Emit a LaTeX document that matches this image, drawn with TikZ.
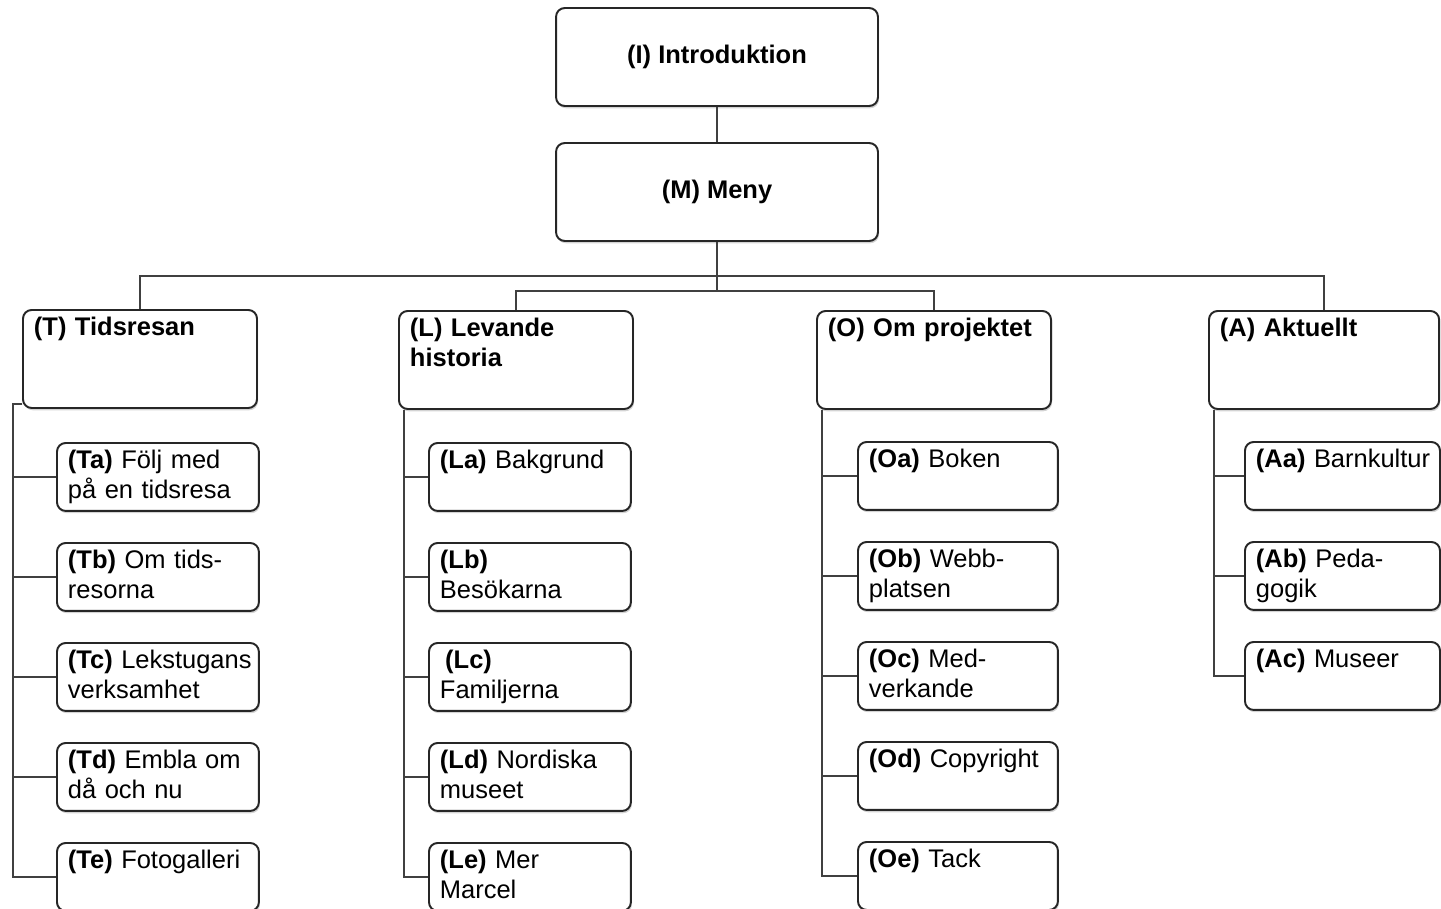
\documentclass[tikz,border=0pt]{standalone}
\usepackage{fontspec}
\setmainfont{Liberation Sans}
\usetikzlibrary{shadows}
\newcommand{\kod}[1]{\textbf{#1}}
\tikzset{
  ruta/.style={draw=black!85, line width=1.1pt, fill=white, rounded corners=5pt,
    drop shadow={shadow xshift=0.6pt, shadow yshift=-1.3pt, opacity=0.35},
    font=\fontsize{14.5}{17.2}\selectfont},
  topp/.style={ruta, minimum width=6.44cm, minimum height=1.96cm,
    font=\fontsize{14.5}{17.2}\selectfont\bfseries},
  avd/.style={ruta, anchor=north west, align=left, inner xsep=6.26pt, inner ysep=4pt,
    text width=120.7pt, text height=10.5pt, text depth=37.3pt,
    font=\fontsize{14.5}{17.2}\selectfont\bfseries},
  sida/.style={ruta, anchor=north west, align=left, inner xsep=6.26pt, inner ysep=4pt,
    text width=102.4pt, text height=10.5pt, text depth=20.2pt},
  lank/.style={draw=black!75, line width=0.8pt}
}
\begin{document}
\begin{tikzpicture}[x=0.02cm, y=-0.02cm]
    \useasboundingbox (0,0) rectangle (1441,909);
    \node[topp] (I) at (717,57) {(I) Introduktion};
    \node[topp] (M) at (717,192) {(M) Meny};
    % avdelningar
    \node[avd] (T) at (22,309) {(T) Tidsresan};
    \node[avd] (L) at (398,310) {(L) Levande\\historia};
    \node[avd] (O) at (816,310) {(O) Om projektet};
    \node[avd, text width=118.5pt] (A) at (1208,310) {(A) Aktuellt};
    % sidor
    \foreach \n/\y/\txt in {Ta/442/{\kod{(Ta)} Följ med\\på en tidsresa}, Tb/542/{\kod{(Tb)} Om tids-\\resorna},
        Tc/642/{\mbox{\kod{(Tc)} Lekstugans}\\verksamhet}, Td/742/{\kod{(Td)} Embla om\\då och nu}, Te/842/{\kod{(Te)} Fotogalleri}}
        \node[sida] (\n) at (56,\y) {\txt};
    \foreach \n/\y/\txt in {La/442/{\kod{(La)} Bakgrund}, Lb/542/{\kod{(Lb)}\\Besökarna},
        Lc/642/{\hspace{3pt}\kod{(Lc)}\\Familjerna}, Ld/742/{\kod{(Ld)} Nordiska\\museet}, Le/842/{\kod{(Le)} Mer\\Marcel}}
        \node[sida] (\n) at (428,\y) {\txt};
    \foreach \n/\y/\txt in {Oa/441/{\kod{(Oa)} Boken}, Ob/541/{\kod{(Ob)} Webb-\\platsen},
        Oc/641/{\kod{(Oc)} Med-\\verkande}, Od/741/{\kod{(Od)} Copyright}, Oe/841/{\kod{(Oe)} Tack}}
        \node[sida, text width=101.3pt] (\n) at (857,\y) {\txt};
    \foreach \n/\y/\txt in {Aa/441/{\mbox{\kod{(Aa)} Barnkultur}}, Ab/541/{\kod{(Ab)} Peda-\\gogik}, Ac/641/{\kod{(Ac)} Museer}}
        \node[sida, text width=98.5pt] (\n) at (1244,\y) {\txt};
    % linjer
    \draw[lank] (I) -- (M);
    \draw[lank] (M.south) -- ++(0,34) -| (T.north);
    \draw[lank] (M.south) -- ++(0,34) -| (A.north);
    \draw[lank] (M.south) -- ++(0,49) -| (L.north);
    \draw[lank] (M.south) -- ++(0,49) -| (O.north);
    \foreach \n in {Ta,Tb,Tc,Td,Te}
        \draw[lank] ([yshift=2.8pt]T.south west) -- ++(-9,0) |- (\n.west);
    \foreach \n in {La,Lb,Lc,Ld,Le}
        \draw[lank] ([xshift=3.4pt]L.south west) |- (\n.west);
    \foreach \n in {Oa,Ob,Oc,Od,Oe}
        \draw[lank] ([xshift=3.4pt]O.south west) |- (\n.west);
    \foreach \n in {Aa,Ab,Ac}
        \draw[lank] ([xshift=3.4pt]A.south west) |- (\n.west);
\end{tikzpicture}
\end{document}
